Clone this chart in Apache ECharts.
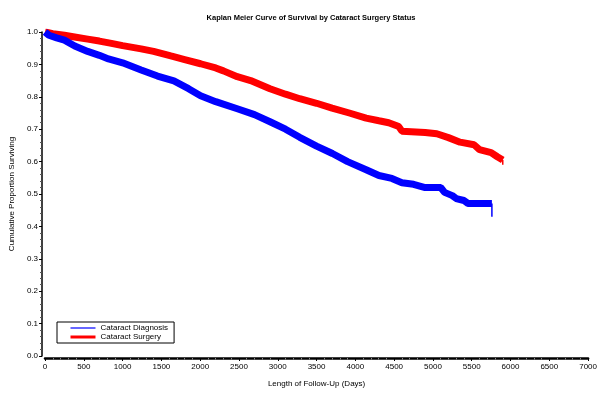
<!DOCTYPE html>
<html><head><meta charset="utf-8">
<script src="https://cdn.jsdelivr.net/npm/echarts@6/dist/echarts.min.js"></script>
<style>html,body{margin:0;padding:0;background:#fff}#c{width:600px;height:393px}</style>
</head><body><div id="c"></div>
<script>
const title = "Kaplan Meier Curve of Survival by Cataract Surgery Status";
const xName = "Length of Follow-Up (Days)";
const yName = "Cumulative Proportion Surviving";
const seriesNames = ["Cataract Diagnosis", "Cataract Surgery"];
const xTicks = [0,500,1000,1500,2000,2500,3000,3500,4000,4500,5000,5500,6000,6500,7000];
const yTicks = [0.0,0.1,0.2,0.3,0.4,0.5,0.6,0.7,0.8,0.9,1.0];

// Cataract Diagnosis (blue)
const diagDays = [0,50,150,250,383,550,700,818,1000,1239,1450,1661,1850,2005,2200,2478,2700,2900,3100,3283,3500,3704,3900,4139,4304,4471,4600,4750,4900,5100,5150,5250,5300,5400,5450,5760];
const diagSurv = [1.0,0.99,0.982,0.975,0.957,0.94,0.928,0.917,0.905,0.883,0.864,0.849,0.825,0.803,0.785,0.763,0.745,0.723,0.70,0.675,0.648,0.625,0.60,0.575,0.557,0.548,0.535,0.53,0.52,0.52,0.505,0.495,0.486,0.48,0.471,0.471];
const diagEnd = [0.471, 0.43];

// Cataract Surgery (red)
const surgDays = [0,100,250,400,550,700,856,1000,1239,1400,1622,1800,2005,2200,2300,2478,2650,2900,3100,3283,3500,3700,3922,4139,4304,4430,4560,4600,4900,5050,5200,5350,5530,5600,5750,5830,5900];
const surgSurv = [1.0,0.995,0.99,0.984,0.978,0.972,0.965,0.958,0.948,0.94,0.926,0.915,0.902,0.889,0.88,0.862,0.85,0.825,0.808,0.794,0.78,0.765,0.75,0.734,0.726,0.72,0.708,0.694,0.69,0.686,0.674,0.66,0.652,0.637,0.628,0.615,0.605];
const surgEnd = [0.605, 0.59];

const font = "'Liberation Sans', Arial, sans-serif";
const chart = echarts.init(document.getElementById('c'), null, {renderer:'canvas'});
const pairs = (xs, ys) => xs.map((x,i)=>[x, ys[i]]);
chart.setOption({
  animation:false,
  backgroundColor:'#fff',
  title:{text:title, left:306, top:9, textAlign:'center',
    textStyle:{fontFamily:font, fontSize:7.5, fontWeight:'bold', color:'#000'}},
  grid:{left:43, right:9, top:32, bottom:36},
  legend:{
    orient:'vertical', left:57, top:322,
    data:[
      {name:seriesNames[0], lineStyle:{width:1.2, color:'#0000ff'}, itemStyle:{opacity:0}},
      {name:seriesNames[1], lineStyle:{width:3, color:'#ff0000'}, itemStyle:{opacity:0}}
    ],
    itemWidth:25, itemHeight:8, itemGap:1,
    padding:[2,6,2,12],
    borderColor:'#000', borderWidth:1,
    textStyle:{fontFamily:font, fontSize:8, color:'#000', padding:[0,0,0,0]}
  },
  xAxis:{
    type:'value', min:0, max:7000, interval:500,
    offset:2,
    name:xName, nameLocation:'middle', nameGap:22,
    nameTextStyle:{fontFamily:font, fontSize:8, color:'#000'},
    axisLine:{show:true, onZero:false, lineStyle:{color:'#000', width:2.5}},
    axisTick:{show:true, length:3, lineStyle:{color:'#000'}},
    minorTick:{show:true, splitNumber:5, length:1.5, lineStyle:{color:'#888'}},
    axisLabel:{fontFamily:font, fontSize:8, color:'#000', margin:5, formatter:v=>String(v)},
    splitLine:{show:false}
  },
  yAxis:{
    type:'value', min:0, max:1.0, interval:0.1,
    offset:3,
    name:yName, nameLocation:'middle', nameGap:23, nameRotate:90,
    nameTextStyle:{fontFamily:font, fontSize:8, color:'#000'},
    axisLine:{show:true, onZero:false, lineStyle:{color:'#000', width:1.5}},
    axisTick:{show:true, length:3, lineStyle:{color:'#000'}},
    minorTick:{show:true, splitNumber:5, length:2, lineStyle:{color:'#555'}},
    axisLabel:{fontFamily:font, fontSize:8, color:'#000', margin:4,
      formatter:v=>v.toFixed(1)},
    splitLine:{show:false}
  },
  series:[
    {name:seriesNames[0], type:'line', symbol:'none',
     data:pairs(diagDays, diagSurv),
     lineStyle:{color:'#0000ff', width:7}, itemStyle:{color:'#0000ff'}, z:3},
    {name:seriesNames[1], type:'line', symbol:'none',
     data:pairs(surgDays, surgSurv),
     lineStyle:{color:'#ff0000', width:7}, itemStyle:{color:'#ff0000'}, z:2},
    {name:'diagEnd', type:'line', symbol:'none',
     data:[[diagDays[diagDays.length-1], diagEnd[0]],[diagDays[diagDays.length-1], diagEnd[1]]],
     lineStyle:{color:'#0000ff', width:1.5}, z:3},
    {name:'surgEnd', type:'line', symbol:'none',
     data:[[surgDays[surgDays.length-1], surgEnd[0]],[surgDays[surgDays.length-1], surgEnd[1]]],
     lineStyle:{color:'#ff0000', width:1.5}, z:2}
  ]
});
</script></body></html>
